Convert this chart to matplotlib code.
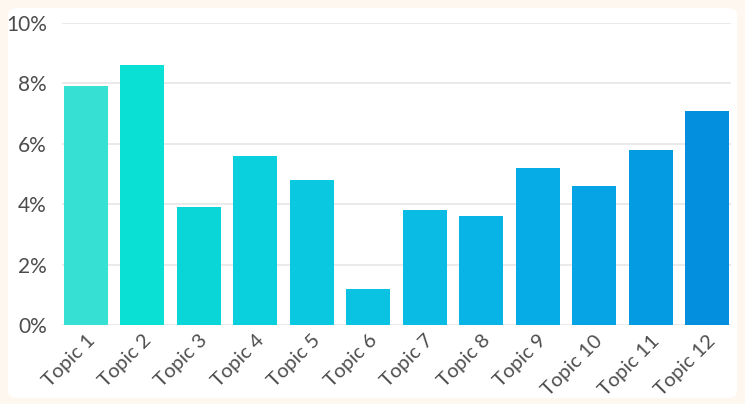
import matplotlib.pyplot as plt
from matplotlib.patches import FancyBboxPatch
from matplotlib.ticker import FuncFormatter

topics = ['Topic 1', 'Topic 2', 'Topic 3', 'Topic 4', 'Topic 5', 'Topic 6',
          'Topic 7', 'Topic 8', 'Topic 9', 'Topic 10', 'Topic 11', 'Topic 12']
share = [7.9, 8.6, 3.9, 5.6, 4.8, 1.2, 3.8, 3.6, 5.2, 4.6, 5.8, 7.1]
bar_colors = ['#36e0d3', '#0ae0d4', '#0ad6d8', '#0acfdc', '#0ac8e0', '#0ac2e2',
              '#0abbe4', '#08b4e6', '#06ace6', '#06a4e4', '#059be2', '#048fde']

plt.rcParams['font.family'] = ['Lato', 'DejaVu Sans']

fig = plt.figure(figsize=(7.45, 4.04), dpi=100)
fig.patch.set_facecolor('#fdf7ef')
panel = FancyBboxPatch((8 / 745, 6 / 404), 729 / 745, 390 / 404,
                       boxstyle='round,pad=0,rounding_size=0.015',
                       transform=fig.transFigure, facecolor='white',
                       edgecolor='none', zorder=-10)
fig.patches.append(panel)

ax = fig.add_axes([62 / 745, 79 / 404, 669 / 745, 302 / 404])
ax.set_facecolor('none')
ax.set_zorder(5)

x = range(len(topics))
ax.bar(x, share, width=0.78, color=bar_colors, zorder=3)

ax.set_xlim(-0.425, 11.425)
ax.set_ylim(0, 10)
ax.set_yticks([0, 2, 4, 6, 8, 10])
ax.yaxis.set_major_formatter(FuncFormatter(lambda v, p: f'{v:.0f}%'))
ax.set_xticks(list(x))
ax.set_xticklabels(topics, rotation=45, ha='right', rotation_mode='anchor')

ax.grid(axis='y', color='#e6e6e6', linewidth=1.2, zorder=0)
ax.set_axisbelow(True)
for s in ax.spines.values():
    s.set_visible(False)
ax.tick_params(length=0, colors='#4d4d4d', labelsize=14.5)
ax.tick_params(axis='y', pad=11, labelsize=15)
ax.tick_params(axis='x', pad=5)

fig.savefig('out.png', dpi=100, facecolor=fig.get_facecolor())
